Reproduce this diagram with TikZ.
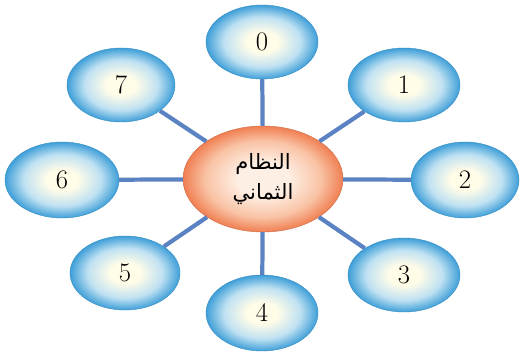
\documentclass[tikz,border=0pt]{standalone}
\usepackage{fontspec}
\TeXXeTstate=1
\newfontfamily\arabicfont[Script=Arabic]{DejaVu Sans}
\usetikzlibrary{shapes.geometric}
\definecolor{spoke}{HTML}{5B82C2}
\definecolor{satin}{HTML}{FFFCE8}
\definecolor{satmid}{HTML}{BFE1F2}
\definecolor{satout}{HTML}{3F9FD8}
\definecolor{hubin}{HTML}{FEEFE4}
\definecolor{hubmid}{HTML}{F9C3A5}
\definecolor{hubout}{HTML}{F07F52}
\pgfdeclareradialshading{satshade}{\pgfpoint{0bp}{0bp}}{color(0bp)=(satin); color(7bp)=(satin); color(17bp)=(satmid); color(25bp)=(satout); color(50bp)=(satout)}
\pgfdeclareradialshading{hubshade}{\pgfpoint{0bp}{0bp}}{color(0bp)=(hubin); color(8bp)=(hubin); color(18bp)=(hubmid); color(25bp)=(hubout); color(50bp)=(hubout)}
\begin{document}
\begin{tikzpicture}[x=0.025cm,y=0.025cm]
        \useasboundingbox (0,0) rectangle (520,356);
        %% Hub
        \node[draw=hubout!85!black,line width=0.3pt,ellipse,shading=hubshade,minimum width=4cm,minimum height=2.65cm,align=center,font=\arabicfont\fontsize{15}{21}\selectfont] (hub) at (263,177) {\beginR النظام\endR\\\beginR الثماني\endR};
        %% Digits
        \node[draw=satout!90!black,line width=0.3pt,ellipse,shading=satshade,minimum width=2.8cm,minimum height=1.85cm,font=\fontsize{19}{22}\selectfont] (d0) at (262,314) {0};
        \node[draw=satout!90!black,line width=0.3pt,ellipse,shading=satshade,minimum width=2.8cm,minimum height=1.85cm,font=\fontsize{19}{22}\selectfont] (d1) at (404,271) {1};
        \node[draw=satout!90!black,line width=0.3pt,ellipse,shading=satshade,minimum width=2.7cm,minimum height=1.9cm,font=\fontsize{19}{22}\selectfont] (d2) at (465,176) {2};
        \node[draw=satout!90!black,line width=0.3pt,ellipse,shading=satshade,minimum width=2.8cm,minimum height=1.85cm,font=\fontsize{19}{22}\selectfont] (d3) at (404,81) {3};
        \node[draw=satout!90!black,line width=0.3pt,ellipse,shading=satshade,minimum width=2.8cm,minimum height=1.9cm,font=\fontsize{19}{22}\selectfont] (d4) at (262,43) {4};
        \node[draw=satout!90!black,line width=0.3pt,ellipse,shading=satshade,minimum width=2.75cm,minimum height=1.85cm,font=\fontsize{19}{22}\selectfont] (d5) at (125,83) {5};
        \node[draw=satout!90!black,line width=0.3pt,ellipse,shading=satshade,minimum width=2.85cm,minimum height=1.9cm,font=\fontsize{19}{22}\selectfont] (d6) at (62,176) {6};
        \node[draw=satout!90!black,line width=0.3pt,ellipse,shading=satshade,minimum width=2.7cm,minimum height=1.85cm,font=\fontsize{19}{22}\selectfont] (d7) at (121,271) {7};
        %% Spokes
        \draw[spoke,line width=3pt] (hub) -- (d0);
        \draw[spoke,line width=3pt] (hub) -- (d1);
        \draw[spoke,line width=3pt] (hub) -- (d2);
        \draw[spoke,line width=3pt] (hub) -- (d3);
        \draw[spoke,line width=3pt] (hub) -- (d4);
        \draw[spoke,line width=3pt] (hub) -- (d5);
        \draw[spoke,line width=3pt] (hub) -- (d6);
        \draw[spoke,line width=3pt] (hub) -- (d7);
    \end{tikzpicture}
\end{document}
